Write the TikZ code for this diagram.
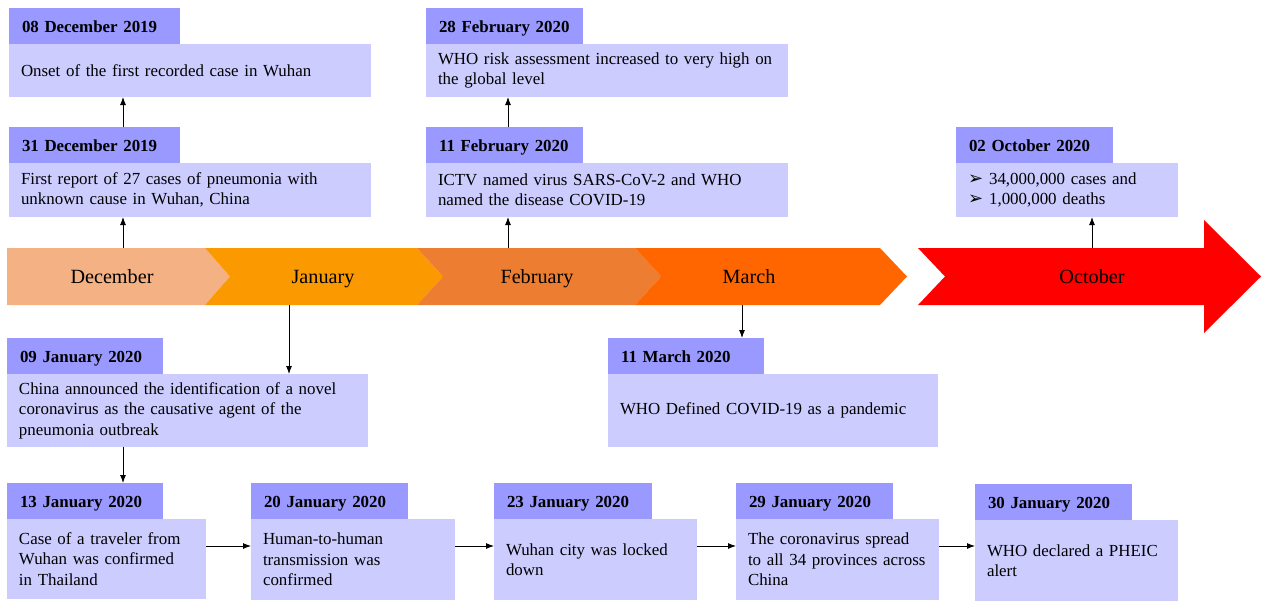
\documentclass[tikz,border=0pt]{standalone}
\usepackage{fontspec}
\setmainfont{Liberation Serif}
\newfontfamily\symfont{DejaVu Sans}
\usetikzlibrary{arrows.meta}
\definecolor{hdrc}{HTML}{9999FF}
\definecolor{bdyc}{HTML}{CCCCFF}
\definecolor{decc}{HTML}{F4B183}
\definecolor{janc}{HTML}{FB9A00}
\definecolor{febc}{HTML}{ED7D31}
\definecolor{marc}{HTML}{FF6600}
\definecolor{octc}{HTML}{FF0000}
\newcommand\bul{{\symfont\fontsize{18}{18}\selectfont ➢}\hspace{6pt}}
\newcommand\lin[1]{\mbox{#1}}
\begin{document}
\begin{tikzpicture}[x=1pt,y=-1pt,
 hdr/.style={fill=hdrc, anchor=north west, inner xsep=13pt, inner ysep=0pt, outer sep=0pt, minimum height=36pt, align=left, text height=13pt, text depth=0pt, font=\fontsize{16.9}{20.5}\selectfont\bfseries},
 bdy/.style={fill=bdyc, anchor=north west, inner xsep=12pt, inner ysep=0pt, outer sep=0pt, align=left, font=\fontsize{16.9}{20.5}\selectfont},
 mon/.style={font=\fontsize{20.2}{24}\selectfont, inner sep=0pt, anchor=base},
 arr/.style={-{Latex[length=8pt,width=6pt]}, line width=0.9pt, black}]
\useasboundingbox (0,0) rectangle (1261,602);

% timeline band
\fill[decc] (7,248) -- (205,248) -- (230,276.5) -- (205,305) -- (7,305) -- cycle;
\fill[janc] (205,248) -- (417,248) -- (443,276.5) -- (417,305) -- (205,305) -- (230,276.5) -- cycle;
\fill[febc] (417,248) -- (635,248) -- (661,276.5) -- (635,305) -- (417,305) -- (443,276.5) -- cycle;
\fill[marc] (635,248) -- (880,248) -- (907,276.5) -- (880,305) -- (635,305) -- (661,276.5) -- cycle;
\fill[octc] (918,248) -- (1204,248) -- (1204,220) -- (1261,276.5) -- (1204,333) -- (1204,305) -- (918,305) -- (945,276.5) -- cycle;
\node[mon] (mDec) at (112,283) {December};
\node[mon] (mJan) at (323,283) {January};
\node[mon] (mFeb) at (537,283) {February};
\node[mon] (mMar) at (749,283) {March};
\node[mon] (mOct) at (1092,283) {October};

% top boxes
\node[hdr, text width=145pt] (h08) at (9,8) {08 December 2019};
\node[bdy, text width=338pt, minimum height=53pt] (b08) at (9,44) {\lin{Onset of the first recorded case in Wuhan}};
\node[hdr, text width=145pt] (h31) at (9,127) {31 December 2019};
\node[bdy, text width=338pt, minimum height=54pt] (b31) at (9,163) {\lin{First report of 27 cases of pneumonia with}\\\lin{unknown cause in Wuhan, China}};
\node[hdr, text width=131pt] (h28) at (426,8) {\lin{28 February 2020}};
\node[bdy, text width=338pt, minimum height=53pt] (b28) at (426,44) {\lin{WHO risk assessment increased to very high on}\\\lin{the global level}};
\node[hdr, text width=131pt] (h11f) at (426,127) {\lin{11 February 2020}};
\node[bdy, text width=338pt, minimum height=54pt] (b11f) at (426,163) {\lin{ICTV named virus SARS-CoV-2 and WHO}\\\lin{named the disease COVID-19}};
\node[hdr, text width=131pt] (h02) at (956,127) {02 October 2020};
\node[bdy, text width=198pt, minimum height=54pt] (b02) at (956,163) {\lin{\bul 34,000,000 cases and}\\\lin{\bul 1,000,000 deaths}};

% lower boxes
\node[hdr, text width=130pt] (h09) at (7,338) {09 January 2020};
\node[bdy, text width=337pt, minimum height=73pt] (b09) at (7,374) {\lin{China announced the identification of a novel}\\\lin{coronavirus as the causative agent of the}\\\lin{pneumonia outbreak}};
\node[hdr, text width=130pt] (h11m) at (608,338) {11 March 2020};
\node[bdy, text width=306pt, minimum height=73pt] (b11m) at (608,374) {\lin{WHO Defined COVID-19 as a pandemic}};

\node[hdr, text width=130pt] (h13) at (7,483) {13 January 2020};
\node[bdy, text width=175pt, minimum height=80pt] (b13) at (7,519) {\lin{Case of a traveler from}\\\lin{Wuhan was confirmed}\\\lin{in Thailand}};
\node[hdr, text width=131pt] (h20) at (251,483) {20 January 2020};
\node[bdy, text width=180pt, minimum height=81pt] (b20) at (251,519) {\lin{Human-to-human}\\\lin{transmission was}\\\lin{confirmed}};
\node[hdr, text width=132pt] (h23) at (494,483) {23 January 2020};
\node[bdy, text width=179pt, minimum height=81pt] (b23) at (494,519) {\lin{Wuhan city was locked}\\\lin{down}};
\node[hdr, text width=131pt] (h29) at (736,483) {29 January 2020};
\node[bdy, text width=179pt, minimum height=81pt] (b29) at (736,519) {\lin{The coronavirus spread}\\\lin{to all 34 provinces across}\\\lin{China}};
\node[hdr, text width=131pt] (h30) at (975,484) {30 January 2020};
\node[bdy, text width=179pt, minimum height=81pt] (b30) at (975,520) {\lin{WHO declared a PHEIC}\\\lin{alert}};

% connector coordinates
\coordinate (cx) at (123,0);
\coordinate (decT) at (123,248);
\coordinate (febT) at (508,248);
\coordinate (octT) at (1092,248);
\coordinate (janB) at (289,305);
\coordinate (marB) at (742,305);
\coordinate (yh) at (0,546);

% connectors
\draw[arr] (decT) -- (b31.south -| decT);
\draw[arr] (h31.north -| cx) -- (b08.south -| cx);
\draw[arr] (febT) -- (b11f.south -| febT);
\draw[arr] (h11f.north -| febT) -- (b28.south -| febT);
\draw[arr] (octT) -- (b02.south -| octT);
\draw[arr] (janB) -- (b09.north -| janB);
\draw[arr] (marB) -- (h11m.north -| marB);
\draw[arr] (b09.south -| cx) -- (h13.north -| cx);
\draw[arr] (b13.east |- yh) -- (b20.west |- yh);
\draw[arr] (b20.east |- yh) -- (b23.west |- yh);
\draw[arr] (b23.east |- yh) -- (b29.west |- yh);
\draw[arr] (b29.east |- yh) -- (b30.west |- yh);
\end{tikzpicture}
\end{document}
